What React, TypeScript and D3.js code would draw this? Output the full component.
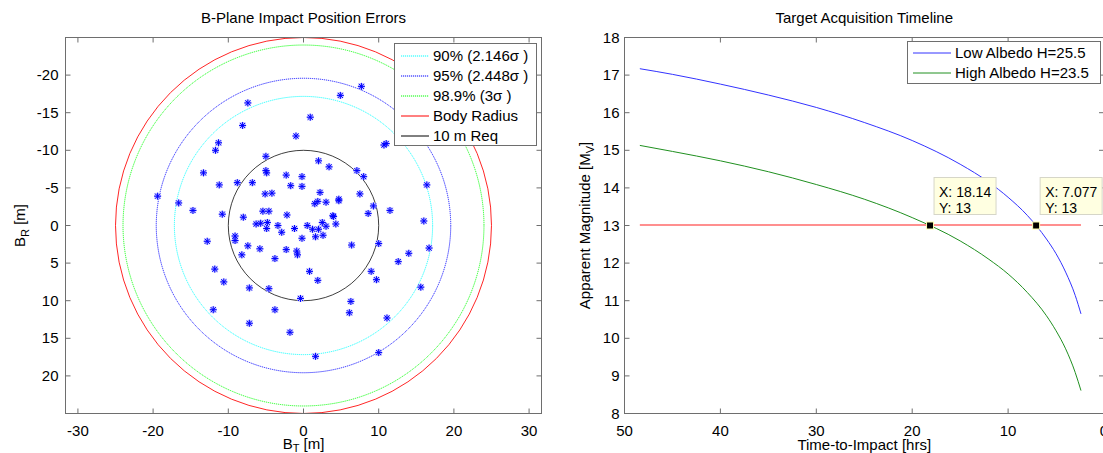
import React, { useEffect, useRef } from 'react';
import * as d3 from 'd3';

// ---- left panel data: B-plane scatter (m) ----
const impactBT = [
  -7.4, -8.1, -1.0, -11.3, -11.7, -5.0, -5.0, -4.9, -13.3, -2.3, -0.2, -11.2, -8.8, -6.8, -1.7, -0.2,
  -5.1, -4.2, -19.4, -16.6, -14.7, -5.4, -4.6, -10.8, -2.2, -8.0, -6.3, -5.7, -4.8, -3.4, -4.9, -2.9,
  -1.2, 0.5, -9.1, -0.2, 0.9, 7.7, 4.9, 10.7, 11.0, 2.0, 3.4, 7.1, 8.0, 16.4, 2.2, 4.7, 4.7, 7.5,
  1.5, 1.9, 3.0, 9.3, 11.5, 3.9, 4.0, 8.6, 16.0, 2.5, 4.3, 3.0, 1.2, 2.0, 1.6, 2.6, -9.1, -12.8,
  -7.4, -5.8, -8.2, -2.3, -0.9, -0.8, -3.8, 0.8, -11.8, -10.6, -7.2, -4.6, -0.4, -12.0, -3.8, -7.2,
  -1.8, 6.4, 10.0, 16.7, 14.0, 12.6, 9.0, 1.9, 9.7, 15.6, 6.3, 6.1, 11.1, 1.6, 10.0,
];
const impactBR = [
  -16.3, -13.3, -11.9, -11.0, -10.0, -9.2, -7.3, -7.0, -7.0, -6.7, -6.5, -5.4, -5.7, -5.7, -5.3, -5.2,
  -4.2, -4.3, -3.9, -3.0, -2.0, -1.9, -1.9, -1.5, -1.4, -1.1, -0.2, -0.3, -0.4, 0.0, 0.4, 0.9,
  0.4, 0.0, 1.4, 1.7, -14.4, -18.5, -17.3, -10.7, -10.9, -8.6, -7.8, -7.3, -6.5, -5.4, -4.4, -3.5, -3.3, -4.2,
  -2.9, -3.2, -3.1, -2.6, -2.0, -1.3, -1.2, -1.6, -0.6, -0.4, -0.2, 0.1, 0.5, 0.5, 1.5, 1.3, 2.0, 2.1,
  2.7, 3.1, 3.9, 3.2, 3.4, 3.9, 4.4, 6.1, 5.8, 7.5, 8.3, 8.4, 9.7, 11.2, 11.2, 13.0,
  14.2, 2.6, 2.4, 3.0, 3.7, 4.8, 6.1, 7.3, 7.2, 8.2, 10.1, 11.6, 12.3, 17.4, 16.9,
];
const ringLabels = ['90% (2.146σ )', '95% (2.448σ )', '98.9% (3σ )', 'Body Radius', '10 m Req'];
const ringRadii = [17.17, 19.58, 24, 25, 10];
const btTicks = [-30, -20, -10, 0, 10, 20, 30];
const brTicks = [-20, -15, -10, -5, 0, 5, 10, 15, 20];

// ---- right panel data: magnitude vs time-to-impact ----
const hoursToImpact = [48.4, 45, 40, 35, 30, 25, 20, 15, 12, 10, 8, 6, 5, 4, 3, 2.4];
const lowAlbedoMag = [17.17, 17.02, 16.76, 16.47, 16.14, 15.74, 15.26, 14.63, 14.15, 13.75, 13.27, 12.64, 12.25, 11.76, 11.14, 10.65];
const highAlbedoMag = [15.13, 14.97, 14.72, 14.43, 14.09, 13.70, 13.21, 12.59, 12.10, 11.71, 11.22, 10.60, 10.20, 9.72, 9.09, 8.61];
const seriesLabels = ['Low Albedo H=25.5', 'High Albedo H=23.5'];
const limitMag = 13;
const tipHours = [18.14, 7.077];
const tipMag = [13, 13];
const hourTicks = [50, 40, 30, 20, 10, 0];
const magTicks = [8, 9, 10, 11, 12, 13, 14, 15, 16, 17, 18];

const FONT = '"Liberation Sans", Arial, Helvetica, sans-serif';
const AXIS = '#6e6e6e';

export default function App() {
  const ref = useRef<SVGSVGElement>(null);

  useEffect(() => {
    const svg = d3.select(ref.current);
    svg.selectAll('*').remove();
    svg.attr('font-family', FONT);

    const top = 37.5, bottom = 413.5, tick = 5;
    const seg = (x1: number, y1: number, x2: number, y2: number) => `M${x1},${y1}L${x2},${y2}`;

    // ============ left: B-plane ============
    const L = { x0: 65.5, x1: 541.5 };
    const x = d3.scaleLinear().domain([-31.65, 31.65]).range([L.x0, L.x1]);
    const y = d3.scaleLinear().domain([-25, 25]).range([top, bottom]);
    const gl = svg.append('g');

    gl.append('rect').attr('x', L.x0).attr('y', top).attr('width', L.x1 - L.x0).attr('height', bottom - top)
      .attr('fill', '#fff');

    // rings
    const ringColors = ['#00ffff', '#0000ff', '#00ff00', '#ff0000', '#000000'];
    const ringDash = ['1.2,0.8', '1.2,0.8', '1.2,0.8', null, null];
    ringRadii.forEach((r, i) => {
      gl.append('circle')
        .attr('cx', x(0)).attr('cy', y(0))
        .attr('r', x(r) - x(0))
        .attr('fill', 'none')
        .attr('stroke', ringColors[i])
        .attr('stroke-opacity', i === 4 ? 0.75 : 0.85)
        .attr('stroke-width', 1)
        .attr('stroke-dasharray', ringDash[i]);
    });

    // asterisk markers
    const star = 'M-3.5,0H3.5M0,-3.5V3.5M-2.6,-2.6L2.6,2.6M-2.6,2.6L2.6,-2.6';
    const pts = impactBT.map((v, i) => [v, impactBR[i]]);
    gl.append('g').selectAll('path').data(pts).join('path')
      .attr('d', star)
      .attr('transform', d => `translate(${x(d[0])},${y(d[1])})`)
      .attr('stroke', '#c0c0ff').attr('stroke-width', 2.2).attr('fill', 'none');
    gl.append('g').selectAll('path').data(pts).join('path')
      .attr('d', star)
      .attr('transform', d => `translate(${x(d[0])},${y(d[1])})`)
      .attr('stroke', '#0000ff').attr('stroke-width', 1).attr('fill', 'none');

    // box + ticks
    gl.append('rect').attr('x', L.x0).attr('y', top).attr('width', L.x1 - L.x0).attr('height', bottom - top)
      .attr('fill', 'none').attr('stroke', AXIS);
    btTicks.forEach(t => {
      gl.append('path').attr('d', seg(x(t), bottom, x(t), bottom - tick)).attr('stroke', AXIS);
      gl.append('path').attr('d', seg(x(t), top, x(t), top + tick)).attr('stroke', AXIS);
      gl.append('text').attr('x', x(t)).attr('y', bottom + 22).attr('text-anchor', 'middle')
        .attr('font-size', 15).text(t);
    });
    brTicks.forEach(t => {
      gl.append('path').attr('d', seg(L.x0, y(t), L.x0 + tick, y(t))).attr('stroke', AXIS);
      gl.append('path').attr('d', seg(L.x1, y(t), L.x1 - tick, y(t))).attr('stroke', AXIS);
      gl.append('text').attr('x', L.x0 - 7).attr('y', y(t) + 5).attr('text-anchor', 'end')
        .attr('font-size', 15).text(t);
    });

    gl.append('text').attr('x', x(0)).attr('y', 23).attr('text-anchor', 'middle').attr('font-size', 15)
      .text('B-Plane Impact Position Errors');
    const xl = gl.append('text').attr('x', x(0)).attr('y', 449).attr('text-anchor', 'middle').attr('font-size', 15);
    xl.append('tspan').text('B');
    xl.append('tspan').attr('font-size', 11).attr('dy', 3).text('T');
    xl.append('tspan').attr('dy', -3).text(' [m]');
    const yl = gl.append('text').attr('transform', `translate(25,${y(0)}) rotate(-90)`).attr('text-anchor', 'middle').attr('font-size', 15);
    yl.append('tspan').text('B');
    yl.append('tspan').attr('font-size', 11).attr('dy', 4).text('R');
    yl.append('tspan').attr('dy', -4).text(' [m]');

    // legend
    const lg = gl.append('g');
    lg.append('rect').attr('x', 394.5).attr('y', 43.5).attr('width', 142).attr('height', 102)
      .attr('fill', '#fff').attr('stroke', AXIS);
    ringLabels.forEach((lab, i) => {
      const ly = 56 + i * 20;
      lg.append('path').attr('d', seg(401, ly, 429, ly))
        .attr('stroke', ringColors[i]).attr('stroke-width', 1).attr('stroke-dasharray', ringDash[i]);
      lg.append('text').attr('x', 433).attr('y', ly + 5).attr('font-size', 15).text(lab);
    });

    // ============ right: magnitude timeline ============
    const R = { x0: 624.5, x1: 1104 };
    const xr = d3.scaleLinear().domain([50, 0]).range([R.x0, R.x1]);
    const yr = d3.scaleLinear().domain([8, 18]).range([bottom, top]);
    const gr = svg.append('g');

    gr.append('rect').attr('x', R.x0).attr('y', top).attr('width', R.x1 - R.x0).attr('height', bottom - top)
      .attr('fill', '#fff');

    const line = d3.line<number>()
      .x((_, i) => xr(hoursToImpact[i]))
      .y(d => yr(d))
      .curve(d3.curveMonotoneX);
    const seriesColors = ['#3333ff', '#209020'];
    [lowAlbedoMag, highAlbedoMag].forEach((s, i) => {
      gr.append('path').attr('d', line(s)).attr('fill', 'none')
        .attr('stroke', seriesColors[i]).attr('stroke-width', 1);
    });
    const hx = d3.extent(hoursToImpact) as [number, number];
    const limitLine = d3.line<number>().x(h => xr(h)).y(() => yr(limitMag));
    gr.append('path').attr('d', limitLine([hx[1], hx[0]]))
      .attr('transform', 'translate(0,-0.5)')
      .attr('fill', 'none').attr('stroke', '#ff2020').attr('stroke-width', 1.1);

    gr.append('rect').attr('x', R.x0).attr('y', top).attr('width', R.x1 - R.x0).attr('height', bottom - top)
      .attr('fill', 'none').attr('stroke', AXIS);
    hourTicks.forEach(t => {
      gr.append('path').attr('d', seg(xr(t), bottom, xr(t), bottom - tick)).attr('stroke', AXIS);
      gr.append('path').attr('d', seg(xr(t), top, xr(t), top + tick)).attr('stroke', AXIS);
      gr.append('text').attr('x', xr(t)).attr('y', bottom + 22).attr('text-anchor', 'middle')
        .attr('font-size', 15).text(t);
    });
    magTicks.forEach(t => {
      gr.append('path').attr('d', seg(R.x0, yr(t), R.x0 + tick, yr(t))).attr('stroke', AXIS);
      gr.append('path').attr('d', seg(R.x1, yr(t), R.x1 - tick, yr(t))).attr('stroke', AXIS);
      gr.append('text').attr('x', R.x0 - 5).attr('y', yr(t) + 5).attr('text-anchor', 'end')
        .attr('font-size', 15).text(t);
    });

    gr.append('text').attr('x', (R.x0 + R.x1) / 2).attr('y', 23).attr('text-anchor', 'middle').attr('font-size', 15)
      .text('Target Acquisition Timeline');
    gr.append('text').attr('x', (R.x0 + R.x1) / 2).attr('y', 450).attr('text-anchor', 'middle').attr('font-size', 15)
      .text('Time-to-Impact [hrs]');
    const ryl = gr.append('text').attr('transform', `translate(590,${yr(13)}) rotate(-90)`).attr('text-anchor', 'middle').attr('font-size', 15);
    ryl.append('tspan').text('Apparent Magnitude [M');
    ryl.append('tspan').attr('font-size', 11).attr('dy', 4).text('V');
    ryl.append('tspan').attr('dy', -4).text(']');

    // legend
    const rg = gr.append('g');
    rg.append('rect').attr('x', 907.5).attr('y', 41.5).attr('width', 193).attr('height', 42)
      .attr('fill', '#fff').attr('stroke', AXIS);
    seriesLabels.forEach((lab, i) => {
      const ly = 53 + i * 20;
      rg.append('path').attr('d', seg(913, ly, 951, ly)).attr('fill', 'none')
        .attr('stroke', seriesColors[i]).attr('stroke-width', 1);
      rg.append('text').attr('x', 955).attr('y', ly + 5).attr('font-size', 15).text(lab);
    });

    // data tips
    tipHours.forEach((h, i) => {
      const mx = xr(h), my = yr(tipMag[i]);
      const g = gr.append('g');
      g.append('rect').attr('x', mx + 4).attr('y', my - 48).attr('width', 62).attr('height', 37)
        .attr('fill', '#ffffe1').attr('stroke', '#d6d6c8');
      g.append('text').attr('x', mx + 9).attr('y', my - 29).attr('font-size', 14).text(`X: ${h}`);
      g.append('text').attr('x', mx + 9).attr('y', my - 13).attr('font-size', 14).text(`Y: ${tipMag[i]}`);
      g.append('rect').attr('x', mx - 3.5).attr('y', my - 3.5).attr('width', 7).attr('height', 7)
        .attr('fill', '#000').attr('stroke', '#ffffb0').attr('stroke-width', 1);
    });
  }, []);

  return (
    <svg ref={ref} width={1103} height={453}
      style={{ position: 'absolute', left: 0, top: 0, display: 'block', background: '#fff' }} />
  );
}
